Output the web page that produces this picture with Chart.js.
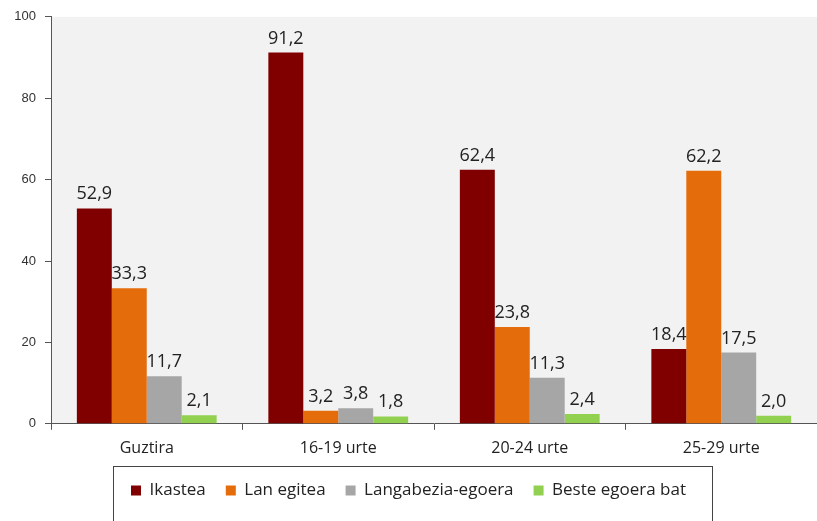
<!DOCTYPE html>
<html>
<head>
<meta charset="utf-8">
<script src="https://cdn.jsdelivr.net/npm/chart.js@4/dist/chart.umd.min.js"></script>
<style>
  html, body { margin: 0; padding: 0; background: #fff; }
  #wrap { width: 817px; height: 521px; }
</style>
</head>
<body>
<div id="wrap"><canvas id="chart"></canvas></div>
<script>
const categories = ['Guztira', '16-19 urte', '20-24 urte', '25-29 urte'];
const ikastea = [52.9, 91.2, 62.4, 18.4];
const lanEgitea = [33.3, 3.2, 23.8, 62.2];
const langabezia = [11.7, 3.8, 11.3, 17.5];
const beste = [2.1, 1.8, 2.4, 2.0];
const yTicks = [0, 20, 40, 60, 80, 100];

const fontMain = "'Open Sans', 'Noto Sans', sans-serif";

// grey plot area background
const plotBg = {
  id: 'plotBg',
  beforeDraw(chart) {
    const { ctx, chartArea: a } = chart;
    ctx.save();
    ctx.fillStyle = '#f2f2f2';
    ctx.fillRect(a.left, a.top, chart.width - a.left, a.bottom - a.top);
    ctx.restore();
  }
};

// value labels above each bar, comma decimals
const barLabels = {
  id: 'barLabels',
  afterDatasetsDraw(chart) {
    const ctx = chart.ctx;
    ctx.save();
    ctx.font = "18px " + fontMain;
    ctx.fillStyle = '#222';
    ctx.textAlign = 'center';
    ctx.textBaseline = 'alphabetic';
    chart.data.datasets.forEach((ds, i) => {
      chart.getDatasetMeta(i).data.forEach((bar, j) => {
        const txt = ds.data[j].toFixed(1).replace('.', ',');
        ctx.fillText(txt, bar.x, bar.y - 9);
      });
    });
    ctx.restore();
  }
};

// box round the legend
const legendBox = {
  id: 'legendBox',
  afterDraw(chart) {
    const ctx = chart.ctx;
    const hb = chart.legend.legendHitBoxes[0];
    const mid = hb.top + hb.height / 2;
    const top = Math.round(mid - 25);
    ctx.save();
    ctx.strokeStyle = '#444';
    ctx.lineWidth = 1;
    ctx.strokeRect(113.5, top + 0.5, 599, 80);
    ctx.restore();
  }
};

new Chart(document.getElementById('chart'), {
  type: 'bar',
  data: {
    labels: categories,
    datasets: [
      { label: 'Ikastea', data: ikastea, backgroundColor: '#800000' },
      { label: 'Lan egitea', data: lanEgitea, backgroundColor: '#e46c0a' },
      { label: 'Langabezia-egoera', data: langabezia, backgroundColor: '#a6a6a6' },
      { label: 'Beste egoera bat', data: beste, backgroundColor: '#92d050' }
    ]
  },
  options: {
    responsive: true,
    maintainAspectRatio: false,
    animation: false,
    layout: { padding: { top: 16, left: 0, right: 0, bottom: 12 } },
    datasets: { bar: { categoryPercentage: 0.73, barPercentage: 1.0 } },
    plugins: {
      tooltip: { enabled: false },
      legend: {
        position: 'bottom',
        labels: {
          boxWidth: 10,
          boxHeight: 10,
          padding: 20,
          color: '#222',
          font: { size: 17, family: fontMain }
        }
      }
    },
    scales: {
      x: {
        afterFit(axis) { axis.height = axis.height - 5; },
        grid: { display: true, drawOnChartArea: false, drawTicks: true, tickLength: 6, offset: true, color: '#555' },
        border: { color: '#555' },
        ticks: { color: '#222', padding: 9, font: { size: 16, family: fontMain } }
      },
      y: {
        min: 0,
        max: 100,
        afterFit(axis) { axis.width = 51; },
        afterBuildTicks(axis) { axis.ticks = yTicks.map(v => ({ value: v })); },
        grid: { display: true, drawOnChartArea: false, drawTicks: true, tickLength: 6, color: '#555' },
        border: { color: '#555' },
        ticks: { color: '#333', padding: 9, font: { size: 13, family: "'Liberation Sans', Arial, sans-serif" } }
      }
    }
  },
  plugins: [plotBg, barLabels, legendBox]
});
</script>
</body>
</html>
